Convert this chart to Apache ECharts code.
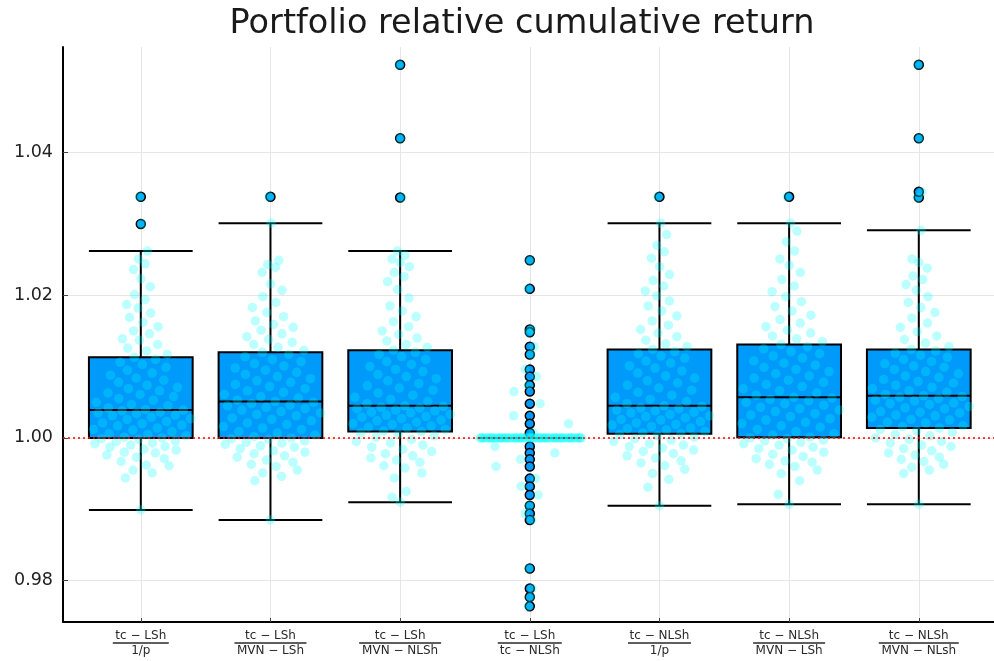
<!DOCTYPE html>
<html>
<head>
<meta charset="utf-8">
<title>Portfolio relative cumulative return</title>
<script src="https://cdn.jsdelivr.net/npm/echarts@6/dist/echarts.min.js"></script>
<style>
  html, body { margin: 0; padding: 0; background: #ffffff; }
  #chart { width: 994px; height: 661px; }
</style>
</head>
<body>
<div id="chart"></div>
<script>
// ---- comparison labels (numerator / denominator of each ratio) ----
const numerators = ['tc − LSh', 'tc − LSh', 'tc − LSh', 'tc − LSh', 'tc − NLSh', 'tc − NLSh', 'tc − NLSh'];
const denominators = ['1/p', 'MVN − LSh', 'MVN − NLSh', 'tc − NLSh', '1/p', 'MVN − LSh', 'MVN − NLsh'];

// ---- box statistics per comparison ----
const whiskerLow  = [0.9899, 0.9885, 0.9910, 1.0000, 0.9905, 0.9907, 0.9907];
const quartile1   = [1.0000, 1.0000, 1.0009, 1.0000, 1.0006, 1.0001, 1.0014];
const median      = [1.0039, 1.0051, 1.0045, 1.0000, 1.0045, 1.0057, 1.0059];
const quartile3   = [1.0113, 1.0120, 1.0123, 1.0000, 1.0124, 1.0131, 1.0124];
const whiskerHigh = [1.0262, 1.0301, 1.0262, 1.0000, 1.0301, 1.0301, 1.0291];

// ---- outliers per comparison ----
const outliers1 = [1.0300, 1.0338];
const outliers2 = [1.0338];
const outliers3 = [1.0337, 1.0420, 1.0523];
const outliers4 = [1.0249, 1.0209, 1.0152, 1.0148, 1.0128, 1.0117, 1.0096, 1.0086, 1.0074, 1.0065,
                   1.0048, 1.0031, 1.0020, 1.0007, 0.9988, 0.9979, 0.9970, 0.9960, 0.9943, 0.9932,
                   0.9920, 0.9905, 0.9894, 0.9885, 0.9817, 0.9789, 0.9777, 0.9764];
const outliers5 = [1.0338];
const outliers6 = [1.0338];
const outliers7 = [1.0337, 1.0345, 1.0420, 1.0523];

// ---- individual portfolio ratios per comparison ----
const returns1 = [
  0.9899, 0.9944, 0.9951, 0.9955, 0.9961, 0.9962, 0.9967, 0.9971, 0.9973, 0.9976, 0.9979, 0.9980,
  0.9983, 0.9984, 0.9987, 0.9988, 0.9990, 0.9992, 0.9993, 0.9995, 0.9996, 0.9998, 0.9999, 1.0000,
  1.0001, 1.0003, 1.0005, 1.0006, 1.0009, 1.0011, 1.0012, 1.0014, 1.0017, 1.0018, 1.0020, 1.0021,
  1.0023, 1.0026, 1.0027, 1.0029, 1.0031, 1.0032, 1.0034, 1.0035, 1.0036, 1.0038, 1.0039, 1.0040,
  1.0042, 1.0045, 1.0047, 1.0050, 1.0053, 1.0055, 1.0058, 1.0061, 1.0063, 1.0066, 1.0069, 1.0071,
  1.0074, 1.0078, 1.0081, 1.0084, 1.0088, 1.0091, 1.0095, 1.0099, 1.0103, 1.0106, 1.0110, 1.0113,
  1.0117, 1.0122, 1.0126, 1.0131, 1.0137, 1.0139, 1.0146, 1.0150, 1.0156, 1.0162, 1.0169, 1.0175,
  1.0182, 1.0187, 1.0194, 1.0201, 1.0212, 1.0223, 1.0236, 1.0244, 1.0251, 1.0262, 1.0300, 1.0338
];
const returns2 = [
  0.9885, 0.9940, 0.9946, 0.9951, 0.9955, 0.9960, 0.9963, 0.9966, 0.9969, 0.9973, 0.9975, 0.9978,
  0.9980, 0.9982, 0.9985, 0.9987, 0.9989, 0.9991, 0.9993, 0.9994, 0.9996, 0.9998, 0.9999, 1.0000,
  1.0002, 1.0004, 1.0007, 1.0009, 1.0012, 1.0014, 1.0016, 1.0019, 1.0021, 1.0024, 1.0026, 1.0028,
  1.0031, 1.0033, 1.0035, 1.0037, 1.0039, 1.0041, 1.0043, 1.0045, 1.0046, 1.0048, 1.0050, 1.0051,
  1.0053, 1.0056, 1.0058, 1.0061, 1.0064, 1.0066, 1.0069, 1.0072, 1.0075, 1.0078, 1.0080, 1.0083,
  1.0086, 1.0089, 1.0092, 1.0095, 1.0098, 1.0101, 1.0104, 1.0107, 1.0110, 1.0114, 1.0117, 1.0120,
  1.0123, 1.0127, 1.0131, 1.0134, 1.0138, 1.0142, 1.0146, 1.0151, 1.0155, 1.0159, 1.0164, 1.0170,
  1.0176, 1.0183, 1.0190, 1.0198, 1.0207, 1.0216, 1.0232, 1.0239, 1.0243, 1.0249, 1.0301, 1.0338
];
const returns3 = [
  0.9910, 0.9917, 0.9925, 0.9944, 0.9951, 0.9958, 0.9961, 0.9966, 0.9969, 0.9972, 0.9975, 0.9978,
  0.9981, 0.9984, 0.9987, 0.9990, 0.9993, 0.9995, 0.9998, 1.0001, 1.0003, 1.0005, 1.0007, 1.0009,
  1.0010, 1.0012, 1.0014, 1.0015, 1.0017, 1.0019, 1.0020, 1.0022, 1.0024, 1.0025, 1.0027, 1.0029,
  1.0030, 1.0032, 1.0033, 1.0035, 1.0036, 1.0038, 1.0039, 1.0041, 1.0042, 1.0043, 1.0044, 1.0045,
  1.0048, 1.0051, 1.0054, 1.0057, 1.0060, 1.0063, 1.0067, 1.0070, 1.0073, 1.0076, 1.0080, 1.0083,
  1.0086, 1.0089, 1.0093, 1.0096, 1.0100, 1.0103, 1.0107, 1.0110, 1.0114, 1.0117, 1.0120, 1.0123,
  1.0127, 1.0131, 1.0136, 1.0140, 1.0145, 1.0150, 1.0156, 1.0163, 1.0170, 1.0178, 1.0185, 1.0196,
  1.0208, 1.0219, 1.0226, 1.0232, 1.0240, 1.0246, 1.0251, 1.0256, 1.0262, 1.0337, 1.0420, 1.0523
];
const returns4 = [
  1.0249, 1.0209, 1.0152, 1.0148, 1.0128, 1.0117, 1.0096, 1.0086, 1.0074, 1.0065, 1.0048, 1.0031,
  1.0020, 1.0007, 0.9988, 0.9979, 0.9970, 0.9960, 0.9943, 0.9932, 0.9920, 0.9905, 0.9894, 0.9885,
  0.9817, 0.9789, 0.9777, 0.9764,
  1.0000, 1.0000, 1.0000, 1.0000, 1.0000, 1.0000, 1.0000, 1.0000, 1.0000, 1.0000, 1.0000, 1.0000,
  1.0000, 1.0000, 1.0000, 1.0000, 1.0000, 1.0000, 1.0000, 1.0000, 1.0000, 1.0000, 1.0000, 1.0000,
  1.0000, 1.0000, 1.0000, 1.0000, 1.0000, 1.0000, 1.0000, 1.0000, 1.0000, 1.0000, 1.0000, 1.0000,
  1.0000, 1.0000, 1.0000, 1.0000, 1.0000, 1.0000, 1.0000, 1.0000, 1.0000, 1.0000, 1.0000, 1.0000,
  1.0000, 1.0000, 1.0000, 1.0000, 1.0000, 1.0000, 1.0000, 1.0000, 1.0000, 1.0000, 1.0000, 1.0000,
  1.0000, 1.0000, 1.0000, 1.0000, 1.0000, 1.0000, 1.0000, 1.0000
];
const returns5 = [
  0.9905, 0.9931, 0.9942, 0.9950, 0.9956, 0.9961, 0.9965, 0.9968, 0.9972, 0.9975, 0.9978, 0.9981,
  0.9983, 0.9986, 0.9988, 0.9990, 0.9992, 0.9995, 0.9997, 0.9999, 1.0001, 1.0003, 1.0005, 1.0006,
  1.0007, 1.0009, 1.0011, 1.0013, 1.0014, 1.0016, 1.0018, 1.0019, 1.0021, 1.0023, 1.0025, 1.0026,
  1.0028, 1.0030, 1.0031, 1.0033, 1.0035, 1.0036, 1.0038, 1.0039, 1.0041, 1.0042, 1.0044, 1.0045,
  1.0048, 1.0051, 1.0054, 1.0057, 1.0060, 1.0064, 1.0067, 1.0070, 1.0074, 1.0077, 1.0080, 1.0084,
  1.0087, 1.0091, 1.0094, 1.0098, 1.0101, 1.0105, 1.0108, 1.0112, 1.0115, 1.0118, 1.0121, 1.0124,
  1.0128, 1.0132, 1.0137, 1.0142, 1.0147, 1.0152, 1.0158, 1.0164, 1.0171, 1.0178, 1.0185, 1.0192,
  1.0199, 1.0206, 1.0213, 1.0221, 1.0229, 1.0240, 1.0252, 1.0261, 1.0270, 1.0285, 1.0301, 1.0338
];
const returns6 = [
  0.9907, 0.9921, 0.9940, 0.9950, 0.9955, 0.9960, 0.9963, 0.9966, 0.9968, 0.9971, 0.9974, 0.9977,
  0.9980, 0.9983, 0.9985, 0.9987, 0.9990, 0.9992, 0.9994, 0.9996, 0.9997, 0.9999, 1.0000, 1.0001,
  1.0004, 1.0006, 1.0009, 1.0012, 1.0015, 1.0017, 1.0020, 1.0022, 1.0025, 1.0027, 1.0030, 1.0032,
  1.0034, 1.0037, 1.0039, 1.0041, 1.0043, 1.0046, 1.0048, 1.0050, 1.0052, 1.0054, 1.0056, 1.0057,
  1.0060, 1.0063, 1.0066, 1.0069, 1.0072, 1.0075, 1.0078, 1.0081, 1.0084, 1.0087, 1.0090, 1.0093,
  1.0096, 1.0099, 1.0102, 1.0105, 1.0108, 1.0112, 1.0115, 1.0118, 1.0121, 1.0125, 1.0128, 1.0131,
  1.0135, 1.0139, 1.0143, 1.0147, 1.0151, 1.0156, 1.0161, 1.0166, 1.0172, 1.0178, 1.0184, 1.0191,
  1.0198, 1.0205, 1.0213, 1.0222, 1.0232, 1.0242, 1.0251, 1.0262, 1.0275, 1.0290, 1.0301, 1.0338
];
const returns7 = [
  0.9907, 0.9950, 0.9955, 0.9959, 0.9963, 0.9967, 0.9970, 0.9973, 0.9976, 0.9979, 0.9982, 0.9985,
  0.9988, 0.9990, 0.9993, 0.9995, 0.9998, 1.0000, 1.0003, 1.0005, 1.0008, 1.0010, 1.0012, 1.0014,
  1.0016, 1.0017, 1.0021, 1.0022, 1.0025, 1.0026, 1.0029, 1.0031, 1.0032, 1.0035, 1.0036, 1.0037,
  1.0041, 1.0042, 1.0044, 1.0047, 1.0048, 1.0049, 1.0052, 1.0053, 1.0055, 1.0057, 1.0058, 1.0059,
  1.0061, 1.0064, 1.0066, 1.0069, 1.0071, 1.0074, 1.0077, 1.0079, 1.0082, 1.0085, 1.0087, 1.0090,
  1.0093, 1.0096, 1.0099, 1.0101, 1.0104, 1.0107, 1.0110, 1.0113, 1.0116, 1.0119, 1.0122, 1.0124,
  1.0128, 1.0133, 1.0138, 1.0143, 1.0149, 1.0155, 1.0161, 1.0168, 1.0176, 1.0183, 1.0190, 1.0198,
  1.0207, 1.0215, 1.0222, 1.0227, 1.0238, 1.0246, 1.0251, 1.0291, 1.0337, 1.0345, 1.0420, 1.0523
];

// ---- y tick values and the break-even reference level ----
const yTicks = [0.98, 1.00, 1.02, 1.04];
const breakEven = 1.0;

// ---------------------------------------------------------------------
const allOutliers = [outliers1, outliers2, outliers3, outliers4, outliers5, outliers6, outliers7];
const allReturns = [returns1, returns2, returns3, returns4, returns5, returns6, returns7];
const positions = numerators.map((_, i) => i + 1);

const BOX_WIDTH = 0.8;
const FRACTION_BAR_WIDTH = [56, 72, 82, 64, 63, 72, 80];

// Density-scaled horizontal spread of the dots (Gaussian kernel density
// estimate); dots in dense regions spread wider.
function spreadOffsets(vals) {
  const n = vals.length;
  const mean = vals.reduce((a, b) => a + b, 0) / n;
  const sd = Math.sqrt(vals.reduce((a, b) => a + (b - mean) * (b - mean), 0) / (n - 1));
  const s = vals.slice().sort((a, b) => a - b);
  const q = p => { const h = (n - 1) * p, lo = Math.floor(h); return s[lo] + (h - lo) * ((s[Math.min(lo + 1, n - 1)]) - s[lo]); };
  const iqr = q(0.75) - q(0.25);
  const w = iqr > 0 ? Math.min(sd, iqr / 1.34) : sd * 1.4;
  const bw = 1.06 * w * Math.pow(n, -0.2);
  const dens = vals.map(v => vals.reduce((acc, x) => acc + Math.exp(-0.5 * ((v - x) / bw) ** 2), 0));
  const dmax = Math.max(...dens);
  return vals.map((v, i) => {
    const u = (0.5 + i * 0.6180339887) % 1;
    return (u - 0.5) * BOX_WIDTH * dens[i] / dmax;
  });
}

const boxData = positions.map((x, i) => [x, whiskerLow[i], quartile1[i], median[i], quartile3[i], whiskerHigh[i]]);
const outlierData = [];
allOutliers.forEach((arr, i) => arr.forEach(v => outlierData.push([positions[i], v])));
const dotData = [];
allReturns.forEach((arr, i) => {
  const off = spreadOffsets(arr);
  arr.forEach((v, k) => dotData.push([positions[i] + off[k], v]));
});

const FONT = 'DejaVu Sans';
const rich = {
  n: { fontSize: 12, lineHeight: 11, color: '#2a2a2a', fontFamily: FONT },
  d: { fontSize: 12, lineHeight: 11, color: '#2a2a2a', fontFamily: FONT }
};
FRACTION_BAR_WIDTH.forEach((w, i) => {
  rich['b' + i] = { width: w, height: 1.4, lineHeight: 4, backgroundColor: '#2a2a2a' };
});

const chart = echarts.init(document.getElementById('chart'), null, { renderer: 'canvas' });

chart.setOption({
  animation: false,
  backgroundColor: '#ffffff',
  title: {
    text: 'Portfolio relative cumulative return',
    left: 517,
    top: 2,
    textAlign: 'center',
    textStyle: { fontFamily: FONT, fontSize: 33.5, fontWeight: 'normal', color: '#1a1a1a' }
  },
  grid: { left: 63, right: 0, top: 47, bottom: 39, containLabel: false },
  xAxis: {
    type: 'value',
    min: 0.4,
    max: 7.58,
    axisLine: { show: true, onZero: false, lineStyle: { color: '#000', width: 2 } },
    axisTick: { show: true, inside: true, length: 4, customValues: positions, lineStyle: { color: '#444', width: 1 } },
    axisLabel: {
      show: true,
      customValues: positions,
      margin: 8,
      formatter: v => {
        const i = Math.round(v) - 1;
        return '{n|' + numerators[i] + '}\n{b' + i + '|}\n{d|' + denominators[i] + '}';
      },
      rich: rich
    },
    splitLine: { show: true, lineStyle: { color: '#e6e6e6', width: 1 } }
  },
  yAxis: {
    type: 'value',
    min: 0.9742,
    max: 1.0548,
    axisLine: { show: true, onZero: false, lineStyle: { color: '#000', width: 2 } },
    axisTick: { show: true, inside: true, length: 5, customValues: yTicks, lineStyle: { color: '#444', width: 1 } },
    axisLabel: {
      show: true,
      customValues: yTicks,
      margin: 10,
      fontFamily: FONT,
      fontSize: 17.5,
      color: '#222',
      formatter: v => v.toFixed(2)
    },
    splitLine: { show: true, lineStyle: { color: '#e6e6e6', width: 1 } }
  },
  series: [
    {
      name: 'box',
      type: 'custom',
      z: 2,
      data: boxData,
      encode: { x: 0, y: [1, 2, 3, 4, 5] },
      renderItem: (params, api) => {
        const x = api.value(0);
        const half = BOX_WIDTH / 2;
        const p = k => api.coord([x, api.value(k)]);
        const left = api.coord([x - half, 0])[0];
        const right = api.coord([x + half, 0])[0];
        const cx = p(1)[0];
        const yLo = p(1)[1], yQ1 = p(2)[1], yMed = p(3)[1], yQ3 = p(4)[1], yHi = p(5)[1];
        const stroke = { stroke: '#000', lineWidth: 2 };
        return {
          type: 'group',
          children: [
            { type: 'line', shape: { x1: cx, y1: yQ3, x2: cx, y2: yHi }, style: stroke },
            { type: 'line', shape: { x1: cx, y1: yQ1, x2: cx, y2: yLo }, style: stroke },
            { type: 'line', shape: { x1: left, y1: yHi, x2: right, y2: yHi }, style: stroke },
            { type: 'line', shape: { x1: left, y1: yLo, x2: right, y2: yLo }, style: stroke },
            { type: 'rect', shape: { x: left, y: yQ3, width: right - left, height: yQ1 - yQ3 },
              style: { fill: '#009AFA', stroke: '#000', lineWidth: 2 } },
            { type: 'line', shape: { x1: left, y1: yMed, x2: right, y2: yMed }, style: stroke }
          ]
        };
      }
    },
    {
      name: 'outliers',
      type: 'scatter',
      z: 3,
      symbol: 'circle',
      symbolSize: 9,
      data: outlierData,
      itemStyle: { color: '#009AFA', borderColor: '#000', borderWidth: 1.5, opacity: 1 },
      markLine: {
        silent: true,
        symbol: ['none', 'none'],
        label: { show: false },
        lineStyle: { color: '#ff0000', type: [2, 3], width: 1.5 },
        data: [{ yAxis: breakEven }]
      }
    },
    {
      name: 'portfolios',
      type: 'scatter',
      z: 4,
      symbol: 'circle',
      symbolSize: 9.5,
      data: dotData,
      itemStyle: { color: 'rgba(0,255,255,0.33)', borderWidth: 0 }
    }
  ]
});
</script>
</body>
</html>
